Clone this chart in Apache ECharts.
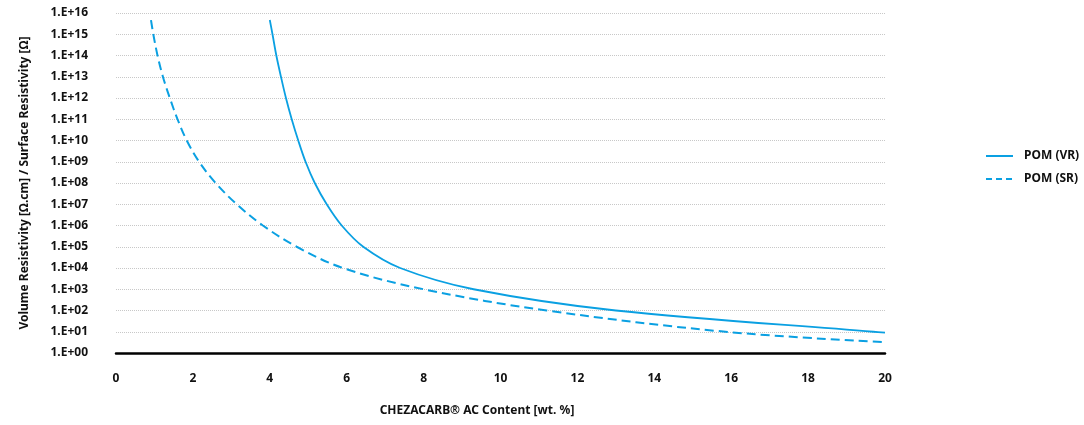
<!DOCTYPE html>
<html>
<head>
<meta charset="utf-8">
<script src="https://cdn.jsdelivr.net/npm/echarts@6/dist/echarts.min.js"></script>
<style>
html,body{margin:0;padding:0;background:#fff;}
#chart{width:1084px;height:425px;}
</style>
</head>
<body>
<div id="chart"></div>
<script>
// Data: [wt. %, resistivity]
const seriesNames = ['POM (VR)', 'POM (SR)'];
const vrData = [
  [4.0, 4.7e15], [4.07, 1e15], [4.17, 1e14], [4.29, 1e13], [4.42, 1e12],
  [4.57, 1e11], [4.74, 1e10], [4.93, 1e9], [5.17, 1e8], [5.48, 1e7],
  [5.87, 1e6], [6.43, 1e5], [7.39, 1e4], [9.3, 1e3], [13.0, 1e2],
  [19.7, 1e1], [20, 9]
];
const srData = [
  [0.91, 4.6e15], [0.97, 1e15], [1.08, 1e14], [1.22, 1e13], [1.40, 1e12],
  [1.60, 1e11], [1.84, 1e10], [2.16, 1e9], [2.59, 1e8], [3.14, 1e7],
  [3.82, 1e6], [4.70, 1e5], [5.90, 1e4], [8.0, 1e3], [11.2, 1e2],
  [15.85, 1e1], [20, 3.2]
];
const xTitle = 'CHEZACARB® AC Content [wt. %]';
const yTitle = 'Volume Resistivity [Ω.cm] / Surface Resistivity [Ω]';

const FONT = '"Noto Sans", "Open Sans", sans-serif';
const BLUE = '#0aa0e2';
const chart = echarts.init(document.getElementById('chart'));
chart.setOption({
  animation: false,
  backgroundColor: '#fff',
  grid: { left: 116, right: 199, top: 13, bottom: 72, containLabel: false },
  legend: {
    orient: 'vertical',
    left: 980, top: 145,
    itemWidth: 27, itemHeight: 14, itemGap: 11,
    itemStyle: { opacity: 0 },
    textStyle: { fontFamily: FONT, fontWeight: 'bold', fontSize: 12, color: '#111', padding: [0, 0, 0, 6] },
    data: [
      { name: seriesNames[0], lineStyle: { width: 2 } },
      { name: seriesNames[1], lineStyle: { width: 2, type: [6, 4] } }
    ]
  },
  xAxis: {
    type: 'value', min: 0, max: 20, interval: 2,
    axisLine: { show: true, lineStyle: { color: '#000', width: 2.5 } },
    axisTick: { show: false },
    splitLine: { show: false },
    axisLabel: { margin: 20, fontFamily: FONT, fontWeight: 'bold', fontSize: 12, color: '#111' }
  },
  yAxis: {
    type: 'log', logBase: 10, min: 1, max: 1e16, interval: 1, splitNumber: 16,
    name: yTitle, nameLocation: 'middle', nameRotate: 90, nameGap: 85,
    nameTextStyle: { fontFamily: FONT, fontWeight: 'bold', fontSize: 12, color: '#111' },
    axisLine: { show: false },
    axisTick: { show: false },
    splitLine: { show: true, lineStyle: { color: '#c8c8c8', type: 'dotted', width: 1 } },
    axisLabel: {
      margin: 28, fontFamily: FONT, fontWeight: 'bold', fontSize: 12, color: '#111',
      formatter: v => '1.E+' + String(Math.round(Math.log10(v))).padStart(2, '0')
    }
  },
  graphic: [{
    type: 'text', x: 477, y: 411,
    style: { text: xTitle, align: 'center', verticalAlign: 'middle',
      font: 'bold 12px "Noto Sans", "Open Sans", sans-serif', fill: '#111' }
  }],
  series: [
    { name: seriesNames[0], type: 'line', data: vrData, smooth: 0.35, symbol: 'none',
      lineStyle: { color: BLUE, width: 1.8, type: 'solid' }, itemStyle: { color: BLUE } },
    { name: seriesNames[1], type: 'line', data: srData, smooth: 0.35, symbol: 'none',
      lineStyle: { color: BLUE, width: 2, type: [9, 5] }, itemStyle: { color: BLUE } }
  ]
});
</script>
</body>
</html>
